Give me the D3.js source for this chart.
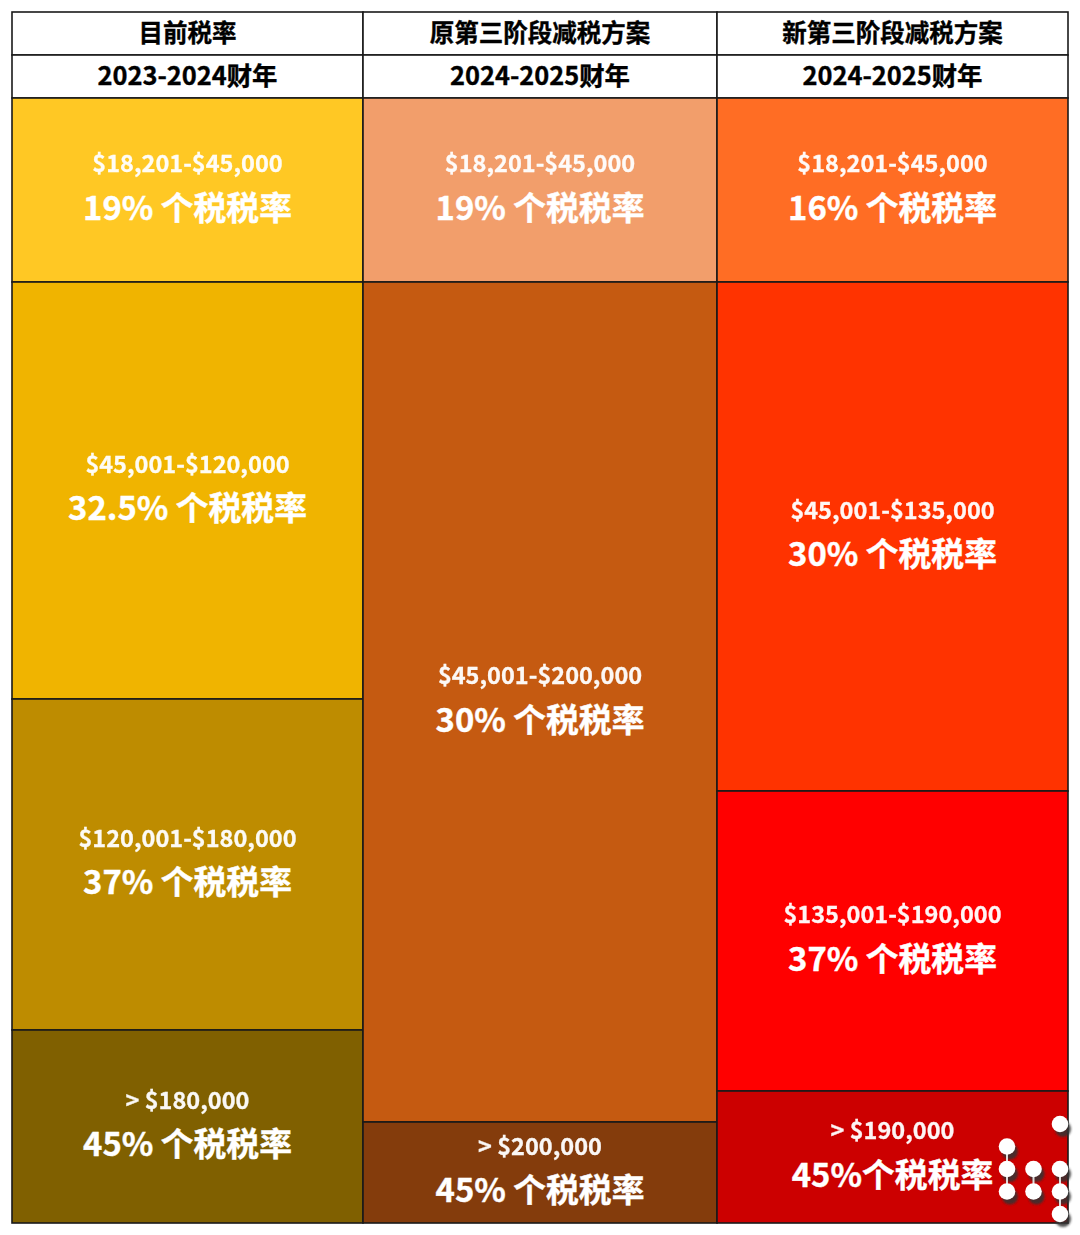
<!DOCTYPE html>
<html><head><meta charset="utf-8">
<script src="https://cdn.jsdelivr.net/npm/d3@7"></script>
<style>html,body{margin:0;padding:0;background:#fff}svg{display:block}
text{font-family:"Noto Sans CJK SC","Noto Sans",sans-serif;font-weight:700;text-anchor:middle}</style>
</head><body><svg id="c" width="1080" height="1235"></svg>
<script>
const schemes = ["目前税率", "原第三阶段减税方案", "新第三阶段减税方案"];
const years = ["2023-2024财年", "2024-2025财年", "2024-2025财年"];
// bracket upper limits; the last bracket of each scheme is open-ended
const topIncome = 250000;
const current = [
  {from:18201,to:45000,range:"$18,201-$45,000",rate:"19% 个税税率",color:"#FFC824"},
  {from:45000,to:120000,range:"$45,001-$120,000",rate:"32.5% 个税税率",color:"#F0B400"},
  {from:120000,to:180000,range:"$120,001-$180,000",rate:"37% 个税税率",color:"#BE8C00"},
  {from:180000,to:topIncome,range:"> $180,000",rate:"45% 个税税率",color:"#806000"}];
const original = [
  {from:18201,to:45000,range:"$18,201-$45,000",rate:"19% 个税税率",color:"#F29E6B"},
  {from:45000,to:200000,range:"$45,001-$200,000",rate:"30% 个税税率",color:"#C55A11"},
  {from:200000,to:topIncome,range:"> $200,000",rate:"45% 个税税率",color:"#843C0C"}];
const revised = [
  {from:18201,to:45000,range:"$18,201-$45,000",rate:"16% 个税税率",color:"#FF6D24"},
  {from:45000,to:135000,range:"$45,001-$135,000",rate:"30% 个税税率",color:"#FF3300"},
  {from:135000,to:190000,range:"$135,001-$190,000",rate:"37% 个税税率",color:"#FF0000"},
  {from:190000,to:topIncome,range:"> $190,000",rate:"45%个税税率",color:"#CC0000"}];
const columns = [current, original, revised];
const incomeBreaks = [18201,45000,120000,135000,180000,190000,200000,topIncome];
// watermark: dot-matrix strokes [column,[rows]]
const markStems = [[0,[1,2,3]],[1,[2,3]],[2,[0]],[2,[2,3,4]]];

const svg = d3.select("#c");
const x = d3.scaleLinear().domain([0,1,2,3]).range([12,363,717,1068]);
const y = d3.scaleLinear().domain(incomeBreaks).range([98,282,699,791,1030,1091,1122,1223]);
const line = "#1a1a1a";

const defs = svg.append("defs");
defs.append("filter").attr("id","blur").attr("x","-30%").attr("y","-30%").attr("width","160%").attr("height","160%")
  .append("feGaussianBlur").attr("stdDeviation",1);

const hdr = [schemes, years];
const hdrSize = [24.5, 25.4];
hdr.forEach((row,r)=>{
  row.forEach((t,i)=>{
    svg.append("rect").attr("x",x(i)).attr("y",12+43*r).attr("width",x(i+1)-x(i)).attr("height",43)
      .attr("fill","#fff").attr("stroke",line).attr("stroke-width",1.6);
    svg.append("text").attr("x",(x(i)+x(i+1))/2).attr("y",12+43*r+30).attr("font-size",hdrSize[r])
      .attr("fill","#000").attr("stroke","#000").attr("stroke-width",.35).text(t);
  });
});

columns.forEach((col,i)=>{
  const g = svg.append("g");
  g.selectAll("rect").data(col).join("rect")
    .attr("x",x(i)).attr("width",x(i+1)-x(i))
    .attr("y",d=>y(d.from)).attr("height",d=>y(d.to)-y(d.from))
    .attr("fill",d=>d.color).attr("stroke",line).attr("stroke-width",1.6);
  const cx=(x(i)+x(i+1))/2;
  g.selectAll("text.r").data(col).join("text").attr("class","r")
    .attr("x",cx).attr("y",d=>(y(d.from)+y(d.to))/2-26+8.3)
    .attr("font-size",23.5).attr("fill","#fff").attr("stroke","#fff").attr("stroke-width",.3).attr("opacity",.96).text(d=>d.range);
  g.selectAll("text.p").data(col).join("text").attr("class","p")
    .attr("x",cx).attr("y",d=>(y(d.from)+y(d.to))/2+18+11.7)
    .attr("font-size",32.8).attr("fill","#fff").attr("stroke","#fff").attr("stroke-width",.4).text(d=>d.rate);
});

const mx = d3.scaleLinear().domain([0,2]).range([1007,1060]);
const my = d3.scaleLinear().domain([0,4]).range([1124,1214]);
const m = svg.append("g");
const dots = markStems.flatMap(([c,rows])=>rows.map(r=>({c,r})));
m.selectAll("circle.s").data(dots).join("circle").attr("class","s").attr("filter","url(#blur)")
  .attr("cx",d=>mx(d.c)+3).attr("cy",d=>my(d.r)+5).attr("r",8).attr("fill","#333").attr("fill-opacity",.85);
m.selectAll("line").data(markStems.filter(s=>s[1].length>1)).join("line")
  .attr("x1",d=>mx(d[0])).attr("x2",d=>mx(d[0]))
  .attr("y1",d=>my(d[1][0])).attr("y2",d=>my(d[1][d[1].length-1]))
  .attr("stroke","#ddd").attr("stroke-width",2);
m.selectAll("circle.d").data(dots).join("circle").attr("class","d")
  .attr("cx",d=>mx(d.c)).attr("cy",d=>my(d.r)).attr("r",8.3).attr("fill","#fff");
</script></body></html>
